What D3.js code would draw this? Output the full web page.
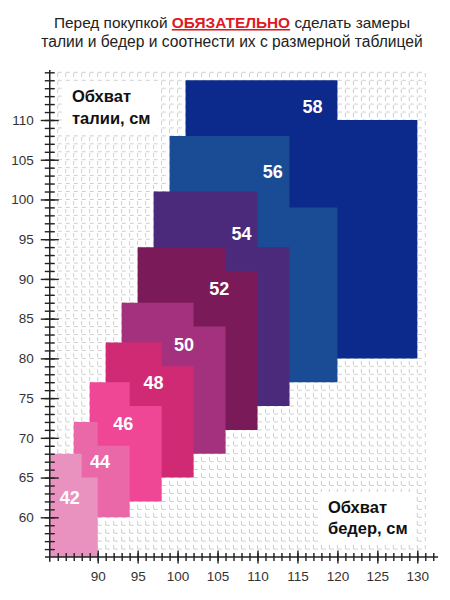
<!DOCTYPE html>
<html><head><meta charset="utf-8">
<script src="https://cdn.jsdelivr.net/npm/d3@7"></script>
<style>
html,body{margin:0;padding:0;background:#fff;}
svg{display:block;font-family:"Liberation Sans",Arial,sans-serif;}
</style></head>
<body>
<svg id="chart" width="450" height="600"></svg>
<script>
// ---- data ----
const sizes        = ["42","44","46","48","50","52","54","56","58"];
const hipsStart    = [84, 87, 89, 91, 93, 95, 97, 99, 101];
const hipsStep     = [88, 90, 94, 98, 102, 106, 110, 114, 120];
const hipsEnd      = [90, 94, 98, 102, 106, 110, 114, 120, 130];
const waistTopLeft = [68, 72, 77, 82, 87, 94, 101, 108, 115];
const waistTopRight= [65, 69, 74, 79, 84, 91, 94, 99, 110];
const waistBottom  = [55, 60, 62, 65, 68, 71, 74, 77, 80];
const labelHips    = [86.5, 90.3, 93.2, 97.0, 100.8, 105.2, 108.0, 111.9, 116.9];
const labelWaist   = [62.4, 66.9, 71.7, 76.9, 81.7, 88.7, 95.7, 103.5, 111.6];
const colors = ["#e992c0","#ea68a7","#f04696","#d12a75","#a3317d","#7b1a58","#4b2a7b","#1a4b95","#0b2a8b"];
const xTicks = [90, 95, 100, 105, 110, 115, 120, 125, 130];
const yTicks = [60, 65, 70, 75, 80, 85, 90, 95, 100, 105, 110];
const titleLine1 = ["Перед покупкой ", "ОБЯЗАТЕЛЬНО", " сделать замеры"];
const titleLine2 = "талии и бедер и соотнести их с размерной таблицей";
const yTitle = ["Обхват", "талии, см"];
const xTitle = ["Обхват", "бедер, см"];

const svg = d3.select("#chart");
const x = d3.scaleLinear().domain([90, 130]).range([97.7, 417.3]);
const y = d3.scaleLinear().domain([60, 110]).range([517.3, 120]);

// ---- grid ----
const grid = svg.append("g").attr("stroke", "#cdcdcd").attr("stroke-width", 1)
  .attr("stroke-dasharray", "4 4").attr("fill", "none");
grid.selectAll("line.v").data(d3.range(85, 132)).join("line")
  .attr("x1", d => x(d)).attr("x2", d => x(d))
  .attr("y1", y(55)).attr("y2", y(116));
grid.selectAll("line.h").data(d3.range(56, 117)).join("line")
  .attr("x1", x(84)).attr("x2", x(131))
  .attr("y1", d => y(d)).attr("y2", d => y(d));

// ---- size blocks (largest drawn first) ----
const idx = d3.range(sizes.length).reverse();
svg.append("g").selectAll("path").data(idx).join("path")
  .attr("fill", i => colors[i])
  .attr("d", i => {
    const p = d3.path();
    p.moveTo(x(hipsStart[i]), y(waistBottom[i]));
    p.lineTo(x(hipsStart[i]), y(waistTopLeft[i]));
    p.lineTo(x(hipsStep[i]), y(waistTopLeft[i]));
    p.lineTo(x(hipsStep[i]), y(waistTopRight[i]));
    p.lineTo(x(hipsEnd[i]), y(waistTopRight[i]));
    p.lineTo(x(hipsEnd[i]), y(waistBottom[i]));
    p.closePath();
    return p.toString();
  });

svg.append("g").selectAll("text").data(idx).join("text")
  .attr("x", i => x(labelHips[i])).attr("y", i => y(labelWaist[i]))
  .attr("text-anchor", "middle").attr("dominant-baseline", "central")
  .attr("fill", "#fff").attr("font-weight", "bold").attr("font-size", 18)
  .text(i => sizes[i]);

// ---- axes ----
const xAxisMinor = d3.axisBottom(x).tickValues(d3.range(85, 133)).tickSize(0).tickFormat("");
const xAxis = d3.axisBottom(x).tickValues(xTicks).tickSize(0).tickPadding(14);
const yAxisMinor = d3.axisLeft(y).tickValues(d3.range(56, 117)).tickSize(0).tickFormat("");
const yAxis = d3.axisLeft(y).tickValues(yTicks).tickSize(0).tickPadding(16);

function styleAxis(g, half, vertical) {
  g.select(".domain").remove();
  g.selectAll(".tick line").attr("stroke", "#222").attr("stroke-width", 1.4)
    .attr(vertical ? "x1" : "y1", -half).attr(vertical ? "x2" : "y2", half);
  g.selectAll(".tick text").attr("fill", "#333").attr("font-size", 13.5)
    .attr("font-family", "Liberation Sans, Arial, sans-serif");
}
const gx = svg.append("g").attr("transform", `translate(0,${y(55)})`);
gx.append("g").call(xAxisMinor).call(g => styleAxis(g, 4, false));
gx.append("g").call(xAxis).call(g => styleAxis(g, 6.5, false));
gx.append("line").attr("x1", x(83.4)).attr("x2", x(132.6)).attr("stroke", "#222").attr("stroke-width", 1.5);

const gy = svg.append("g").attr("transform", `translate(${x(84)},0)`);
gy.append("g").call(yAxisMinor).call(g => styleAxis(g, 5, true));
gy.append("g").call(yAxis).call(g => styleAxis(g, 9, true));
gy.append("line").attr("y1", y(54.4)).attr("y2", y(116.3)).attr("stroke", "#222").attr("stroke-width", 1.5);

// ---- axis titles with white boxes ----
function boxedTitle(lines, x0, y0, lh) {
  const g = svg.append("g");
  const r = g.append("rect").attr("fill", "#fff");
  const t = g.append("text").attr("font-weight", "bold").attr("font-size", 16.5).attr("fill", "#111");
  lines.forEach((s, k) => t.append("tspan").attr("x", x0).attr("y", y0 + k * lh).text(s));
  const b = t.node().getBBox();
  r.attr("x", b.x - 7).attr("y", b.y - 6).attr("width", b.width + 14).attr("height", b.height + 12);
}
boxedTitle(yTitle, 72, 102, 21.5);
boxedTitle(xTitle, 328, 513, 20.5);

// ---- title ----
const t1 = svg.append("text").attr("x", 232).attr("y", 28).attr("text-anchor", "middle")
  .attr("font-size", 15.4).attr("fill", "#222");
t1.append("tspan").text(titleLine1[0]);
t1.append("tspan").text(titleLine1[1]).attr("fill", "#e0191f").attr("font-weight", "bold")
  .attr("text-decoration", "underline");
t1.append("tspan").text(titleLine1[2]);
svg.append("text").attr("x", 232).attr("y", 47).attr("text-anchor", "middle")
  .attr("font-size", 15.6).attr("fill", "#222").text(titleLine2);
</script>
</body></html>
